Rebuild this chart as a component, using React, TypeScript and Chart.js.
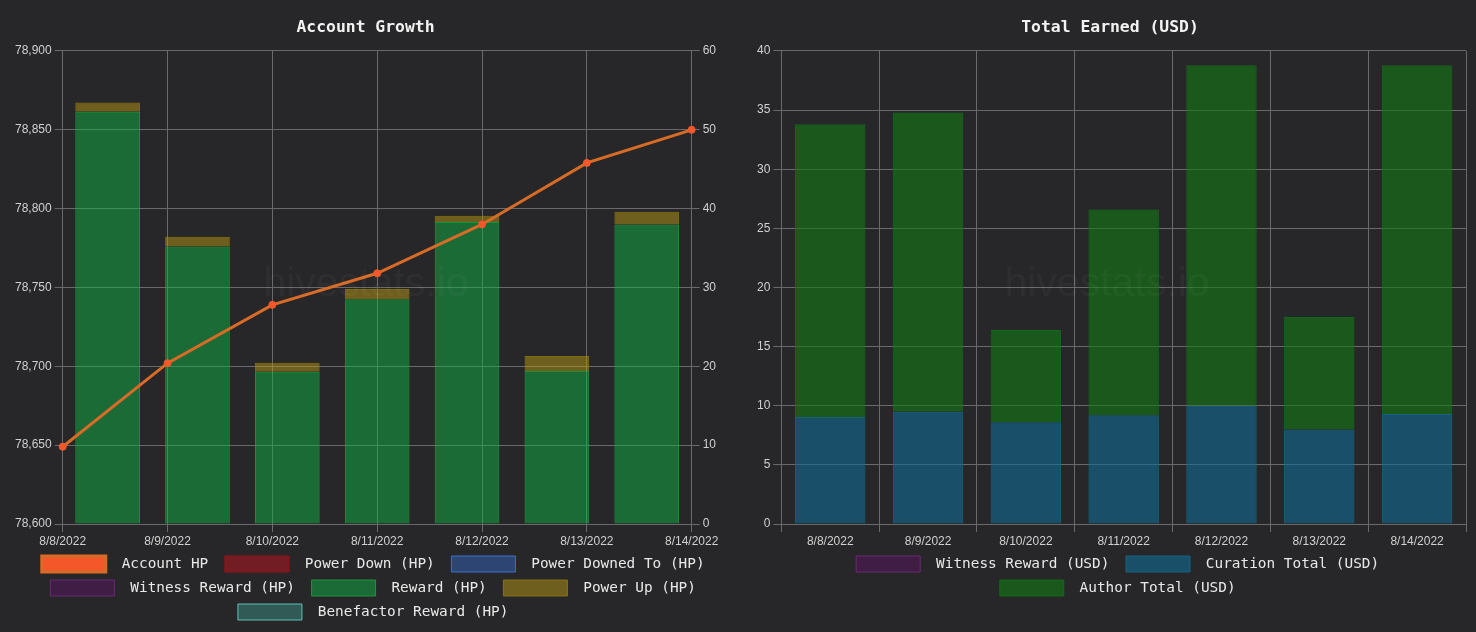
import React, { useEffect, useRef } from 'react';
import { Chart, registerables } from 'chart.js';

Chart.register(...registerables);

// ---------- data ----------
const dates = ['8/8/2022', '8/9/2022', '8/10/2022', '8/11/2022', '8/12/2022', '8/13/2022', '8/14/2022'];

const accountHP = [78649, 78702, 78739, 78759, 78790, 78829, 78850];
const powerDownHP = [0, 0, 0, 0, 0, 0, 0];
const powerDownedToHP = [0, 0, 0, 0, 0, 0, 0];
const witnessRewardHP = [0, 0, 0, 0, 0, 0, 0];
const rewardHP = [52.3, 35.2, 19.3, 28.5, 38.3, 19.4, 38.0];
const powerUpHP = [1.15, 1.25, 1.15, 1.3, 0.8, 1.9, 1.6];
const benefactorRewardHP = [0, 0, 0, 0, 0, 0, 0];

const witnessRewardUSD = [0, 0, 0, 0, 0, 0, 0];
const curationTotalUSD = [9.05, 9.5, 8.6, 9.2, 10.0, 8.0, 9.3];
const authorTotalUSD = [24.75, 25.3, 7.8, 17.4, 28.8, 9.5, 29.5];

const hpAxis = { min: 78600, max: 78900, step: 50 };
const growthAxis = { min: 0, max: 60, step: 10 };
const usdAxis = { min: 0, max: 40, step: 5 };

// ---------- styles ----------
const BG = '#272729';
const GRID = '#6a6a6a';
const TICK = '#d0d0d0';
const TEXT = '#e8e8e8';
const MONO = '"DejaVu Sans Mono", monospace';
const SANS = '"Liberation Sans", Arial, sans-serif';

const watermark = {
  id: 'watermark',
  afterDatasetsDraw(chart: any) {
    const { ctx, chartArea, width } = chart;
    ctx.save();
    ctx.font = '41px ' + SANS;
    ctx.fillStyle = 'rgba(255,255,255,0.035)';
    ctx.textAlign = 'center';
    ctx.textBaseline = 'middle';
    ctx.fillText('hivestats.io', width / 2, (chartArea.top + chartArea.bottom) / 2 - 3);
    ctx.restore();
  },
};

// shifts the legend rows a little to the right, as in the reference
const legendShift = {
  id: 'legendShift',
  afterLayout(chart: any) {
    const l = chart.legend;
    if (l) {
      l.left += 12;
      l.right += 12;
    }
  },
};

const legendOpts = {
  position: 'bottom' as const,
  labels: {
    boxWidth: 64,
    boxHeight: 16,
    padding: 8,
    color: TEXT,
    font: { family: MONO, size: 14.4 },
    generateLabels(chart: any) {
      const items = Chart.defaults.plugins.legend.labels.generateLabels(chart);
      return items.map((it: any) => ({ ...it, text: ' ' + it.text + ' ' }));
    },
  },
};

const titleOpts = (text: string) => ({
  display: true,
  text,
  color: '#f2f2f2',
  font: { family: MONO, size: 16.4, weight: 'bold' as const },
  padding: { top: 10, bottom: 13.3 },
});

const tickFont = { family: SANS, size: 12 };
const xAfterFit = (s: any) => {
  s.height = 24;
};

function GrowthChart() {
  const ref = useRef<HTMLCanvasElement>(null);
  useEffect(() => {
    const barBase = { xAxisID: 'x2', yAxisID: 'y1', borderWidth: 1, grouped: false, stack: 'hp' };
    const chart = new Chart(ref.current!, {
      type: 'bar',
      data: {
        labels: dates,
        datasets: [
          {
            type: 'line',
            label: 'Account HP',
            data: accountHP,
            xAxisID: 'x',
            yAxisID: 'y',
            backgroundColor: '#f4572a',
            borderColor: '#d86b26',
            borderWidth: 3,
            pointRadius: 3.5,
            pointBackgroundColor: '#f4572a',
            pointBorderColor: '#f4572a',
            pointBorderWidth: 1,
            tension: 0,
            fill: false,
          } as any,
          {
            ...barBase,
            label: 'Power Down (HP)',
            data: powerDownHP,
            backgroundColor: 'rgba(190,20,30,0.5)',
            borderColor: '#9a1216',
          },
          {
            ...barBase,
            label: 'Power Downed To (HP)',
            data: powerDownedToHP,
            backgroundColor: 'rgba(52,100,190,0.5)',
            borderColor: '#3d70cc',
          },
          {
            ...barBase,
            label: 'Witness Reward (HP)',
            data: witnessRewardHP,
            backgroundColor: 'rgba(90,20,95,0.5)',
            borderColor: '#6a2a72',
          },
          {
            ...barBase,
            label: 'Reward (HP)',
            data: rewardHP,
            backgroundColor: 'rgba(15,175,69,0.5)',
            borderColor: 'rgba(30,170,60,0.8)',
          },
          {
            ...barBase,
            label: 'Power Up (HP)',
            data: powerUpHP,
            backgroundColor: 'rgba(181,151,19,0.5)',
            borderColor: 'rgba(150,125,10,0.8)',
          },
          {
            ...barBase,
            label: 'Benefactor Reward (HP)',
            data: benefactorRewardHP,
            backgroundColor: 'rgba(60,140,130,0.5)',
            borderColor: '#5cc2b4',
          },
        ],
      },
      options: {
        responsive: false,
        animation: false,
        layout: { padding: { left: 4, right: 5 } },
        plugins: {
          title: titleOpts('Account Growth'),
          legend: legendOpts,
          tooltip: { enabled: false },
        },
        scales: {
          x: {
            type: 'category',
            offset: false,
            grid: { color: GRID, offset: false, tickLength: 8 },
            border: { color: GRID },
            ticks: { color: TICK, font: tickFont, maxRotation: 0, autoSkip: false, padding: 2 },
            afterFit: xAfterFit,
          },
          x2: {
            type: 'category',
            offset: true,
            display: false,
            stacked: true,
          },
          y: {
            position: 'left',
            min: hpAxis.min,
            max: hpAxis.max,
            ticks: { stepSize: hpAxis.step, color: TICK, font: tickFont },
            grid: { color: GRID, tickLength: 8 },
            border: { color: GRID },
          },
          y1: {
            position: 'right',
            stacked: true,
            min: growthAxis.min,
            max: growthAxis.max,
            ticks: { stepSize: growthAxis.step, color: TICK, font: tickFont },
            grid: { color: GRID, drawOnChartArea: false, tickLength: 8 },
            border: { color: GRID },
          },
        },
      } as any,
      plugins: [watermark, legendShift],
    });
    return () => chart.destroy();
  }, []);
  return <canvas ref={ref} width={716} height={622} style={{ display: 'block' }} />;
}

function EarnedChart() {
  const ref = useRef<HTMLCanvasElement>(null);
  useEffect(() => {
    const chart = new Chart(ref.current!, {
      type: 'bar',
      data: {
        labels: dates,
        datasets: [
          {
            label: 'Witness Reward (USD)',
            data: witnessRewardUSD,
            backgroundColor: 'rgba(90,20,95,0.5)',
            borderColor: '#6a2a72',
            borderWidth: 1,
          },
          {
            label: 'Curation Total (USD)',
            data: curationTotalUSD,
            backgroundColor: 'rgba(19,107,148,0.6)',
            borderColor: 'rgba(20,105,135,0.9)',
            borderWidth: 1,
          },
          {
            label: 'Author Total (USD)',
            data: authorTotalUSD,
            backgroundColor: 'rgba(19,121,19,0.6)',
            borderColor: 'rgba(20,110,25,0.9)',
            borderWidth: 1,
          },
        ],
      },
      options: {
        responsive: false,
        animation: false,
        layout: { padding: { left: 8, right: 2 } },
        plugins: {
          title: titleOpts('Total Earned (USD)'),
          legend: legendOpts,
          tooltip: { enabled: false },
        },
        scales: {
          x: {
            stacked: true,
            grid: { color: GRID, tickLength: 8 },
            border: { color: GRID },
            ticks: { color: TICK, font: tickFont, maxRotation: 0, autoSkip: false, padding: 2 },
            afterFit: xAfterFit,
          },
          y: {
            stacked: true,
            min: usdAxis.min,
            max: usdAxis.max,
            ticks: { stepSize: usdAxis.step, color: TICK, font: tickFont },
            grid: { color: GRID, tickLength: 8 },
            border: { color: GRID },
          },
        },
      } as any,
      plugins: [watermark, legendShift],
    });
    return () => chart.destroy();
  }, []);
  return <canvas ref={ref} width={722} height={598} style={{ display: 'block' }} />;
}

export default function App() {
  return (
    <div style={{ position: 'fixed', left: 0, top: 0, width: 1476, height: 632, background: BG, overflow: 'hidden' }}>
      <div style={{ position: 'absolute', left: 8, top: 8 }}>
        <GrowthChart />
      </div>
      <div style={{ position: 'absolute', left: 746, top: 8 }}>
        <EarnedChart />
      </div>
    </div>
  );
}
